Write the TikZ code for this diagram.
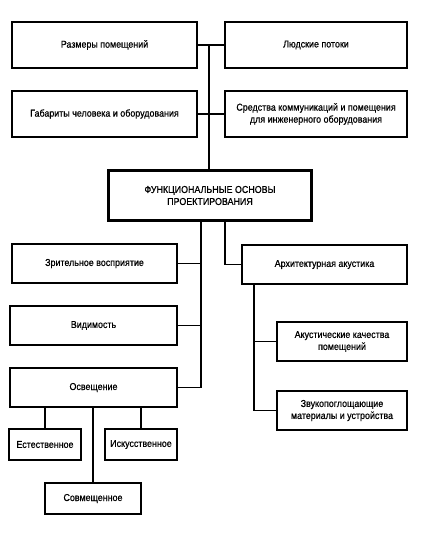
\documentclass[tikz,border=0pt]{standalone}
\usepackage{fontspec}
\setmainfont{Liberation Sans}[FakeStretch=0.89, FakeBold=0.6]
\usetikzlibrary{positioning}

\begin{document}
\begin{tikzpicture}[x=1pt, y=-1pt, line width=1.1pt,
	block/.style={draw, align=center, inner sep=2pt, minimum height=39pt,
		font=\fontsize{10}{12}\selectfont},
	mainblock/.style={block, line width=3.2pt, minimum width=203pt, minimum height=50pt},
	small/.style={block, minimum width=72pt, minimum height=31pt}]
	\useasboundingbox (0,0) rectangle (421,538);

	% Nodes of the upper part
	\node [block, minimum width=185pt, minimum height=46pt] (razmery)   at (104.5,45)  {Размеры помещений};
	\node [block, minimum width=182pt, minimum height=46pt] (potoki)    at (316,45)    {Людские потоки};
	\node [block, minimum width=185pt, minimum height=46pt] (gabarity)  at (104.5,114) {Габариты человека и оборудования};
	\node [block, minimum width=182pt, minimum height=46pt] (sredstva)  at (316,114)   {Средства коммуникаций и помещения\\для инженерного оборудования};
	\node [mainblock]                                       (osnovy)    at (210,195.5) {ФУНКЦИОНАЛЬНЫЕ ОСНОВЫ\\ПРОЕКТИРОВАНИЯ};

	% Nodes of the left branch
	\node [block, minimum width=165pt] (zritel)    at (94.5,263.5) {Зрительное восприятие};
	\node [block, minimum width=167pt] (vidimost)  at (93.5,325.5) {Видимость};
	\node [block, minimum width=167pt] (osvesch)   at (93.5,387.5) {Освещение};
	\node [small]                      (estestv)   at (45,444.5)   {Естественное};
	\node [small]                      (iskusstv)  at (141,444.5)  {Искусственное};
	\node [small, minimum width=96pt]  (sovmesch)  at (93,498.5)   {Совмещенное};

	% Nodes of the right branch
	\node [block, minimum width=165pt] (akustika)  at (324.5,264.5) {Архитектурная акустика};
	\node [block, minimum width=130pt] (kachestva) at (342,341.5)   {Акустические качества\\помещений};
	\node [block, minimum width=130pt] (zvuko)     at (342,410.5)   {Звукопоглощающие\\материалы и устройства};

	% Trunks
	\coordinate (lt) at (201,222);
	\coordinate (rt) at (225,222);
	\coordinate (at) at (254,284);

	% Paths
	\draw (razmery.east) -- (potoki.west);
	\draw (gabarity.east) -- (sredstva.west);
	\draw (osnovy.north -| 209,0) -- (razmery.east -| 209,0);

	% Left branch
	\draw (lt) -- (lt |- osvesch.east);
	\draw (zritel.east) -- (zritel.east -| lt);
	\draw (vidimost.east) -- (vidimost.east -| lt);
	\draw (osvesch.east) -- (osvesch.east -| lt);
	\draw (estestv.north) -- (estestv.north |- osvesch.south);
	\draw (iskusstv.north) -- (iskusstv.north |- osvesch.south);
	\draw (sovmesch.north) -- (sovmesch.north |- osvesch.south);

	% Right branch
	\draw (rt) |- (akustika.west);
	\draw (at) |- (zvuko.west);
	\draw (kachestva.west) -- (kachestva.west -| at);
\end{tikzpicture}
\end{document}
